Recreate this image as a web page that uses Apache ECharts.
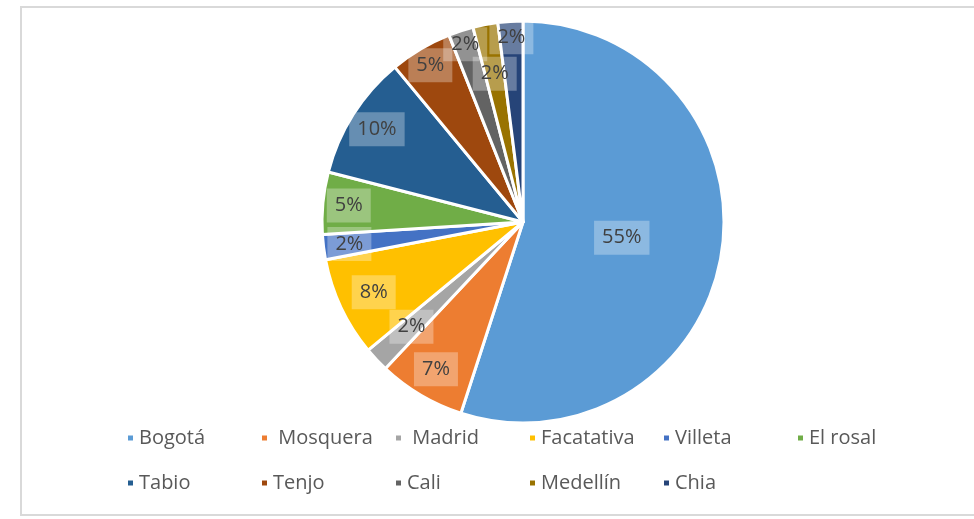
<!DOCTYPE html>
<html>
<head>
<meta charset="utf-8">
<script src="https://cdn.jsdelivr.net/npm/echarts@6/dist/echarts.min.js"></script>
<style>
  html, body { margin: 0; padding: 0; background: #fff; }
  #chart { width: 974px; height: 519px; }
</style>
</head>
<body>
<div id="chart"></div>
<script>
// data
var cities = ["Bogotá", " Mosquera", " Madrid", "Facatativa", "Villeta", "El rosal",
  "Tabio", "Tenjo", "Cali", "Medellín", "Chia"];
var shares = [55, 7, 2, 8, 2, 5, 10, 5, 2, 2, 2];
var colors = ["#5B9BD5", "#ED7D31", "#A5A5A5", "#FFC000", "#4472C4", "#70AD47",
  "#255E91", "#9E480E", "#636363", "#997300", "#264478"];

// layout
var cx = 523, cy = 222, R = 201;
var labelDist = [100, 171, 153, 165, 175, 175, 173, 182, 187, 151, 185];

var total = shares.reduce(function (a, b) { return a + b; }, 0);
var midAngles = [];
var acc = 0;
shares.forEach(function (v) {
  midAngles.push((acc + v / 2) / total * 2 * Math.PI);
  acc += v;
});

var chart = echarts.init(document.getElementById("chart"));
chart.setOption({
  animation: false,
  graphic: [
    {
      type: "rect",
      shape: { x: 21, y: 7, width: 1000, height: 508 },
      style: { fill: "none", stroke: "#d9d9d9", lineWidth: 2 },
      silent: true,
    },
  ],
  legend: {
    left: 121,
    top: 418,
    width: 820,
    icon: "rect",
    itemWidth: 7,
    itemHeight: 7,
    itemGap: 15,
    textStyle: {
      fontFamily: "Open Sans",
      fontSize: 20,
      color: "#595959",
      width: 106,
      lineHeight: 30,
      overflow: "none",
    },
    data: cities,
  },
  series: [
    {
      type: "pie",
      center: [cx, cy],
      radius: [0, R],
      startAngle: 90,
      clockwise: true,
      itemStyle: { borderColor: "#fff", borderWidth: 3 },
      label: {
        show: true,
        position: "inside",
        formatter: function (p) {
          return Math.round(p.value / total * 100) + "%";
        },
        fontFamily: "Open Sans",
        fontSize: 20,
        color: "#404040",
        backgroundColor: "rgba(255,255,255,0.3)",
        padding: [8, 8, 6, 8],
      },
      labelLayout: function (p) {
        var i = p.dataIndex;
        var a = midAngles[i];
        return {
          x: cx + labelDist[i] * Math.sin(a),
          y: cy - labelDist[i] * Math.cos(a),
        };
      },
      emphasis: { disabled: true },
      data: cities.map(function (c, i) {
        return { name: c, value: shares[i], itemStyle: { color: colors[i] } };
      }),
    },
  ],
});
</script>
</body>
</html>
